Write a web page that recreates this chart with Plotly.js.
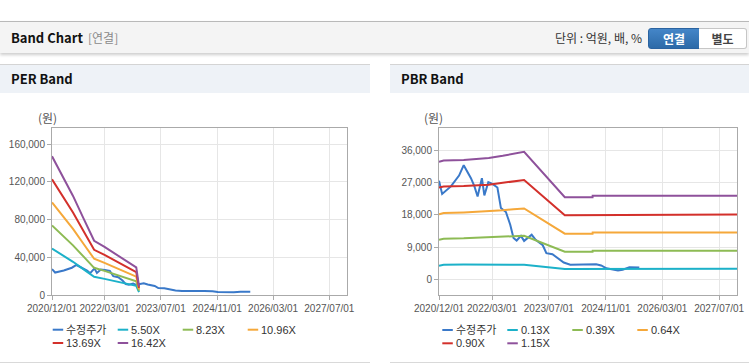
<!DOCTYPE html>
<html>
<head>
<meta charset="utf-8">
<script src="https://cdn.plot.ly/plotly-3.0.1.min.js"></script>
<style>
html,body{margin:0;padding:0;background:#fff;width:749px;height:364px;overflow:hidden;
  font-family:"Noto Sans CJK KR","Liberation Sans",sans-serif;}
#hdr{position:absolute;left:0;top:21px;width:749px;height:31px;background:#f4f4f4;
  border-top:1px solid #b9b9b9;box-shadow:0 2px 3px rgba(0,0,0,0.20);z-index:2;}
#hdr .t{position:absolute;left:11px;top:6px;font-size:13px;font-weight:bold;color:#111;line-height:20px;}
#hdr .s{position:absolute;left:88px;top:6px;font-size:12px;color:#8a8a8a;line-height:20px;}
#hdr .u{position:absolute;right:107px;top:6px;font-size:12px;color:#333;line-height:20px;}
#hdr .b1{position:absolute;left:648px;top:6px;width:50px;height:19px;line-height:19px;text-align:center;
  background:linear-gradient(#4486c8,#2d6aa8);border:1px solid #2b63a0;border-radius:3px 0 0 3px;
  color:#fff;font-size:12px;font-weight:bold;}
#hdr .b2{position:absolute;left:699px;top:6px;width:47px;height:19px;line-height:19px;text-align:center;
  background:#fff;border:1px solid #c6c6c6;border-left:none;border-radius:0 3px 3px 0;
  color:#444;font-size:12px;font-weight:bold;}
.panel{position:absolute;top:64px;height:297px;border-top:1px solid #d4d4d4;border-bottom:1px solid #d9d9d9;background:#fff;}
.panel .ph{position:absolute;left:0;top:0;right:0;height:28px;background:#eef2f7;}
.panel .ph span{position:absolute;left:11px;top:4px;line-height:20px;font-size:13px;font-weight:bold;color:#111;}
#p1{left:0;width:370px;}
#p2{left:390px;width:359px;}
.chart{position:absolute;top:93px;height:269px;}
#perChart{left:0;width:370px;}
#pbrChart{left:390px;width:359px;}
</style>
</head>
<body>
<div id="hdr">
  <div class="t">Band Chart</div>
  <div class="s">[연결]</div>
  <div class="u">단위 : 억원, 배, %</div>
  <div class="b1">연결</div>
  <div class="b2">별도</div>
</div>
<div class="panel" id="p1"><div class="ph"><span>PER Band</span></div></div>
<div class="panel" id="p2"><div class="ph"><span>PBR Band</span></div></div>
<div class="chart" id="perChart"></div>
<div class="chart" id="pbrChart"></div>
<script>
// ---------- data ----------
const xTickVals = ['2020-12-01','2022-03-01','2023-07-01','2024-11-01','2026-03-01','2027-07-01'];
const xTickText = ['2020/12/01','2022/03/01','2023/07/01','2024/11/01','2026/03/01','2027/07/01'];

const priceName = '수정주가';
const priceDates = ['2020-12-01','2020-12-28','2021-03-13','2021-05-22','2021-07-01','2021-09-01','2021-10-01',
  '2021-10-28','2021-12-04','2021-12-25','2022-01-28','2022-03-04','2022-04-16','2022-05-16','2022-06-28',
  '2022-08-04','2022-09-01','2022-09-28','2022-11-04','2022-12-01','2023-02-04','2023-03-10','2023-05-10',
  '2023-06-10','2023-08-01','2023-11-06','2024-01-01','2024-07-13','2024-08-10','2024-09-22','2024-11-06',
  '2025-02-13','2025-03-25','2025-05-22','2025-08-15'];
const priceValues = [27500,23800,25900,28900,31800,28200,25900,23100,28200,23400,27100,26600,25600,19900,18800,
  15300,11600,10900,12200,10800,12500,11100,9600,7400,7100,4800,4200,4200,4300,4000,3200,2600,2800,3500,3400];

const perBandDates = ['2020-12-01','2021-03-01','2021-06-01','2021-09-01','2021-12-01','2022-03-01',
  '2022-06-01','2022-09-01','2022-12-01','2022-12-25'];
const perNames = ['5.50X','8.23X','10.96X','13.69X','16.42X'];
const per550  = [49200,42200,35200,27100,19300,17100,14700,12400,9800,3000];
const per823  = [73700,63200,52600,40600,28800,25600,22100,18500,14600,4500];
const per1096 = [98100,84100,70100,54100,38400,34000,29400,24700,19500,6000];
const per1369 = [122600,105000,87500,67500,47900,42500,36700,30800,24300,7500];
const per1642 = [147000,126000,105000,81000,57500,51000,44000,37000,29200,9000];

const pbrBandDates = ['2020-12-01','2021-01-10','2021-07-01','2022-02-01','2022-06-01','2022-09-01',
  '2022-12-01','2023-11-15','2024-07-10','2024-07-11','2027-12-01'];
const pbrNames = ['0.13X','0.39X','0.64X','0.90X','1.15X'];
const pbr013 = [3900,4200,4250,4250,4250,4250,4200,3000,3000,3050,3050];
const pbr039 = [11100,11400,11500,11700,11900,12100,12200,7800,7800,8100,8100];
const pbr064 = [18200,18500,18700,19000,19300,19600,19800,12800,12800,13100,13100];
const pbr090 = [25600,25900,26000,26400,26900,27300,27700,17900,17900,18100,18100];
const pbr115 = [32700,33100,33200,33800,34400,35000,35500,22900,22900,23300,23300];

// ---------- style ----------
const colors = ['#3a79c9','#1cb1c9','#8dbb54','#f5a83a','#d3302b','#8e519b'];
const tickFont = {family:'Liberation Sans, Noto Sans CJK KR, sans-serif', size:10, color:'#555'};
const legFont = {family:'Liberation Sans, Noto Sans CJK KR, sans-serif', size:11, color:'#333'};

function lineTrace(x, y, name, color) {
  return {type:'scatter', mode:'lines', x:x, y:y, name:name,
          line:{color:color, width:2}, hoverinfo:'skip', showlegend:false};
}

function customLegend(names, g) {
  const shapes = [], annotations = [];
  names.forEach((n, i) => {
    const col = i % 4, row = Math.floor(i / 4);
    const lx = g.x0 + col * 65 - g.plotLeft;
    const ly = g.plotBottom - (g.rowY0 + row * 13.3);
    shapes.push({type:'line', xref:'paper', yref:'paper',
      x0: lx / g.plotW, x1: (lx + 10.5) / g.plotW, y0: ly / g.plotH, y1: ly / g.plotH,
      line:{color: colors[i], width:2}});
    annotations.push({xref:'paper', yref:'paper', x:(lx + 12.5) / g.plotW, y: ly / g.plotH,
      xanchor:'left', yanchor:'middle', text:n, showarrow:false, font:legFont, borderpad:0});
  });
  return {shapes, annotations};
}

function makeLayout(m, yaxis, leg, labelShift) {
  const annotations = leg.annotations.concat([{xref:'paper', yref:'paper', x:0, y:1, xanchor:'center',
    yanchor:'middle', xshift:labelShift, yshift:10.6, text:'(원)', showarrow:false,
    font:{family:'Noto Sans CJK KR, sans-serif', size:12, color:'#555'}}]);
  return {
    margin:m, paper_bgcolor:'rgba(0,0,0,0)', plot_bgcolor:'#fff', showlegend:false,
    xaxis:{type:'date', range:['2020-12-01','2027-12-01'], tickmode:'array', tickvals:xTickVals,
      ticktext:xTickText, showgrid:true, gridcolor:'#e6e6e6', showline:true, linecolor:'#aaaaaa',
      mirror:true, ticks:'outside', ticklen:4, tickcolor:'#aaaaaa', tickfont:tickFont, zeroline:false,
      fixedrange:true},
    yaxis:Object.assign({showgrid:true, gridcolor:'#e6e6e6', showline:true, linecolor:'#aaaaaa',
      mirror:true, ticks:'outside', ticklen:4, tickcolor:'#aaaaaa', tickfont:tickFont, zeroline:false,
      tickformat:',d', fixedrange:true}, yaxis),
    shapes: leg.shapes, annotations: annotations
  };
}

// ---------- PER ----------
const perTraces = [lineTrace(priceDates, priceValues, priceName, colors[0])];
[per550, per823, per1096, per1369, per1642].forEach((arr, i) =>
  perTraces.push(lineTrace(perBandDates, arr, perNames[i], colors[i + 1])));
const perM = {l:52, r:23, t:35, b:67};
const perLeg = customLegend([priceName].concat(perNames),
  {x0:52.7, plotLeft:52, plotW:295, plotBottom:202.3, plotH:167, rowY0:237});
Plotly.newPlot('perChart', perTraces,
  makeLayout(perM, {range:[0,177000], tick0:0, dtick:40000}, perLeg, -5),
  {staticPlot:true, displayModeBar:false});

// ---------- PBR ----------
const pbrTraces = [lineTrace(priceDates, priceValues, priceName, colors[0])];
[pbr013, pbr039, pbr064, pbr090, pbr115].forEach((arr, i) =>
  pbrTraces.push(lineTrace(pbrBandDates, arr, pbrNames[i], colors[i + 1])));
const pbrM = {l:49, r:12, t:35, b:67};
const pbrLeg = customLegend([priceName].concat(pbrNames),
  {x0:52.3, plotLeft:49, plotW:298, plotBottom:202, plotH:167, rowY0:237});
Plotly.newPlot('pbrChart', pbrTraces,
  makeLayout(pbrM, {range:[-4200,42100], tick0:0, dtick:9000}, pbrLeg, -5.5),
  {staticPlot:true, displayModeBar:false});
</script>
</body>
</html>
